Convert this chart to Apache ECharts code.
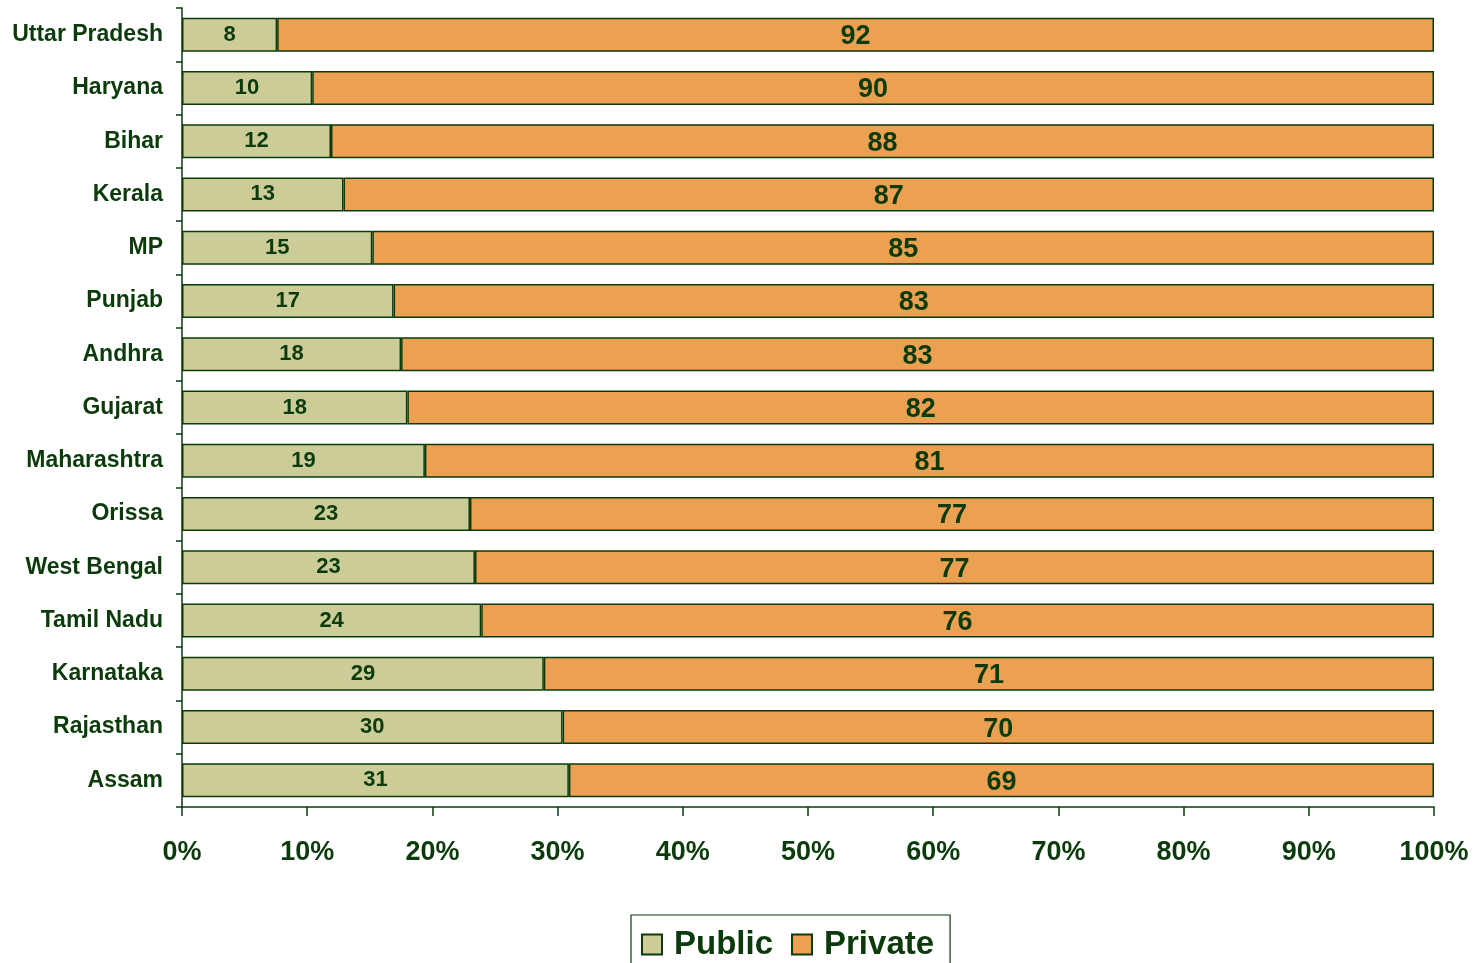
<!DOCTYPE html>
<html>
<head>
<meta charset="utf-8">
<script src="https://cdn.jsdelivr.net/npm/echarts@6/dist/echarts.min.js"></script>
<style>
html,body{margin:0;padding:0;background:#fff;}
#chart{width:1474px;height:963px;}
</style>
</head>
<body>
<div id="chart"></div>
<script>
const categories = ['Uttar Pradesh','Haryana','Bihar','Kerala','MP','Punjab','Andhra','Gujarat','Maharashtra','Orissa','West Bengal','Tamil Nadu','Karnataka','Rajasthan','Assam'];
const publicShare = [7.6,10.4,11.9,12.9,15.2,16.9,17.5,18.0,19.4,23.0,23.4,23.9,28.9,30.4,30.9];
const privateShare = [92.4,89.6,88.1,87.1,84.8,83.1,82.5,82.0,80.6,77.0,76.6,76.1,71.1,69.6,69.1];
const xTicks = [0,10,20,30,40,50,60,70,80,90,100];

const dark = '#0b3b0b';
const font = 'Liberation Sans, Arial, sans-serif';
const chart = echarts.init(document.getElementById('chart'));
chart.setOption({
  animation: false,
  backgroundColor: '#fff',
  grid: {left: 182, right: 40, top: 8, bottom: 156},
  xAxis: {
    type: 'value', min: xTicks[0], max: xTicks[xTicks.length-1], interval: 10,
    axisLine: {show: true, lineStyle: {color: dark, width: 1.5}},
    axisTick: {show: true, length: 9, lineStyle: {color: dark, width: 1.5}},
    splitLine: {show: false},
    axisLabel: {formatter: '{value}%', margin: 32, color: dark, fontSize: 27, fontWeight: 'bold', fontFamily: font}
  },
  yAxis: {
    type: 'category', data: categories, inverse: true,
    axisLine: {show: true, lineStyle: {color: dark, width: 1.5}},
    axisTick: {show: true, length: 6, lineStyle: {color: dark, width: 1.5}},
    axisLabel: {margin: 19, color: dark, fontSize: 23, fontWeight: 'bold', fontFamily: font}
  },
  legend: {
    left: 631, top: 915,
    data: ['Public','Private'],
    icon: 'rect', itemWidth: 20, itemHeight: 20, itemGap: 18,
    borderColor: dark, borderWidth: 1.2, padding: [13, 16, 8, 10],
    textStyle: {color: dark, fontSize: 33, fontWeight: 'bold', fontFamily: font, padding: [0,0,0,7]}
  },
  series: [
    {
      name: 'Public', type: 'bar', stack: 'total', data: publicShare, barWidth: 34,
      itemStyle: {color: '#cccc99', borderColor: dark, borderWidth: 1.5},
      label: {show: true, position: 'inside', formatter: p => Math.round(p.value), color: dark, fontSize: 22, fontWeight: 'bold', fontFamily: font}
    },
    {
      name: 'Private', type: 'bar', stack: 'total', data: privateShare, barWidth: 34,
      itemStyle: {color: '#eba052', borderColor: dark, borderWidth: 1.5},
      label: {show: true, position: 'inside', formatter: p => Math.round(p.value), color: dark, fontSize: 27, fontWeight: 'bold', fontFamily: font, offset: [0, 2]}
    }
  ]
});
</script>
</body>
</html>
